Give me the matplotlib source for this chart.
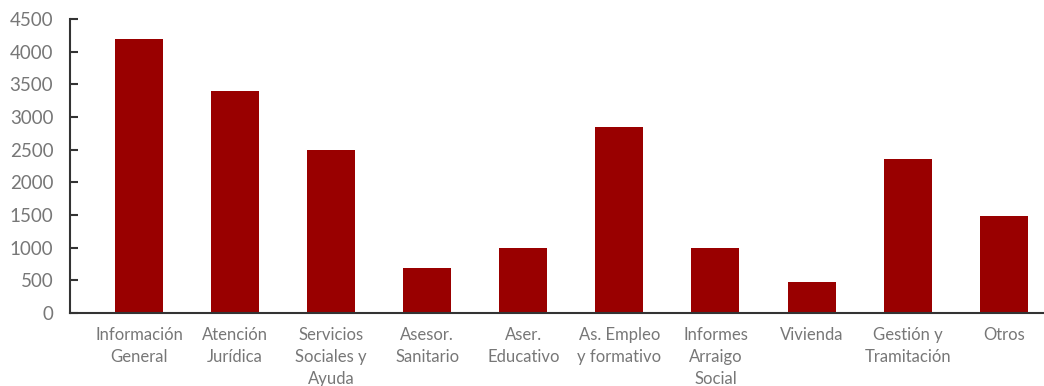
import matplotlib

matplotlib.use('agg')

import numpy as np
import matplotlib.pyplot as plt

plt.rcParams['font.family'] = ['Lato', 'DejaVu Sans']

categorias = ['Información\nGeneral', 'Atención\nJurídica', 'Servicios\nSociales y\nAyuda',
              'Asesor.\nSanitario', 'Aser.\nEducativo', 'As. Empleo\ny formativo',
              'Informes\nArraigo\nSocial', 'Vivienda', 'Gestión y\nTramitación', 'Otros']
valores = [4200, 3390, 2490, 690, 990, 2840, 990, 475, 2360, 1490]
yticks = np.arange(0, 4501, 500)

fig = plt.figure(figsize=(10.44, 3.86), dpi=100)
ax = fig.add_axes([0.067, 0.189, 0.933, 0.762])

x = np.arange(len(categorias))
ax.bar(x, valores, width=0.5, color='#990000')

ax.set_xlim(-0.72, 9.42)
ax.set_ylim(0, 4500)
ax.set_yticks(yticks)
ax.set_xticks(x)
ax.set_xticklabels(categorias, fontsize=12, color='#777777', linespacing=1.45)
ax.tick_params(axis='x', length=0, pad=10)
ax.tick_params(axis='y', direction='in', length=6, width=1.5, color='#333333',
               labelsize=13.5, labelcolor='#777777', pad=12)

for s in ['top', 'right']:
    ax.spines[s].set_visible(False)
for s in ['left', 'bottom']:
    ax.spines[s].set_color('#333333')
    ax.spines[s].set_linewidth(1.5)

plt.savefig('out.png', dpi=100)
